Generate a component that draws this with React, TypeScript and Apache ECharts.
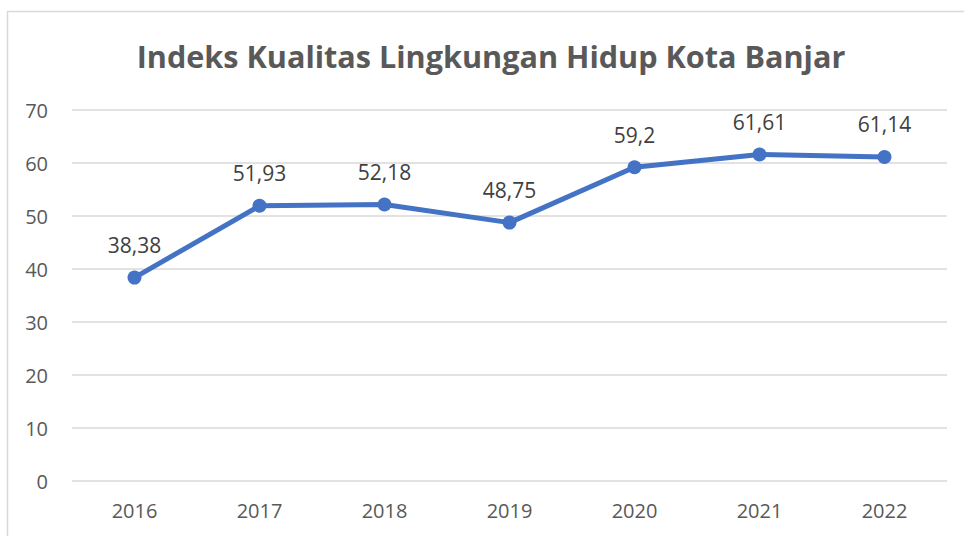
import React, { useEffect, useRef } from "react";
import * as echarts from "echarts";

const categories = ["2016", "2017", "2018", "2019", "2020", "2021", "2022"];
const values = [38.38, 51.93, 52.18, 48.75, 59.2, 61.61, 61.14];
const valueLabels = ["38,38", "51,93", "52,18", "48,75", "59,2", "61,61", "61,14"];
const title = "Indeks Kualitas Lingkungan Hidup Kota Banjar";

export default function App() {
  const ref = useRef<HTMLDivElement>(null);
  useEffect(() => {
    const chart = echarts.init(ref.current!, null, { renderer: "svg" });
    chart.setOption({
      animation: false,
      backgroundColor: "#ffffff",
      graphic: [
        {
          type: "rect",
          shape: { x: 7.5, y: 11.5, width: 1000, height: 600 },
          style: { fill: "none", stroke: "#d9d9d9", lineWidth: 1.5 },
          silent: true,
        },
        {
          type: "text",
          x: 491,
          y: 56,
          silent: true,
          style: {
            text: title,
            textAlign: "center",
            textVerticalAlign: "middle",
            fontFamily: "Open Sans",
            fontWeight: "bold",
            fontSize: 30.6,
            fill: "#595959",
          },
        },
      ],
      grid: { left: 72, right: 17, top: 110, bottom: 55 },
      xAxis: {
        type: "category",
        data: categories,
        boundaryGap: true,
        axisLine: { show: false },
        axisTick: { show: false },
        axisLabel: {
          color: "#595959",
          fontSize: 20,
          fontFamily: "Open Sans",
          margin: 19,
        },
      },
      yAxis: {
        type: "value",
        min: 0,
        max: 70,
        interval: 10,
        axisLine: { show: false },
        axisTick: { show: false },
        splitLine: { lineStyle: { color: "#d9d9d9", width: 1.5 } },
        axisLabel: {
          color: "#595959",
          fontSize: 20,
          fontFamily: "Open Sans",
          margin: 24,
        },
      },
      series: [
        {
          type: "line",
          data: values,
          lineStyle: { color: "#4472C4", width: 5 },
          itemStyle: { color: "#4472C4" },
          symbol: "circle",
          symbolSize: 14,
          label: {
            show: true,
            position: "top",
            distance: 15,
            color: "#404040",
            fontSize: 21,
            fontFamily: "Open Sans",
            formatter: (p: any) => valueLabels[p.dataIndex],
          },
        },
      ],
    });
    return () => chart.dispose();
  }, []);
  return (
    <div
      ref={ref}
      style={{ position: "fixed", left: 0, top: 0, width: 964, height: 536 }}
    />
  );
}
